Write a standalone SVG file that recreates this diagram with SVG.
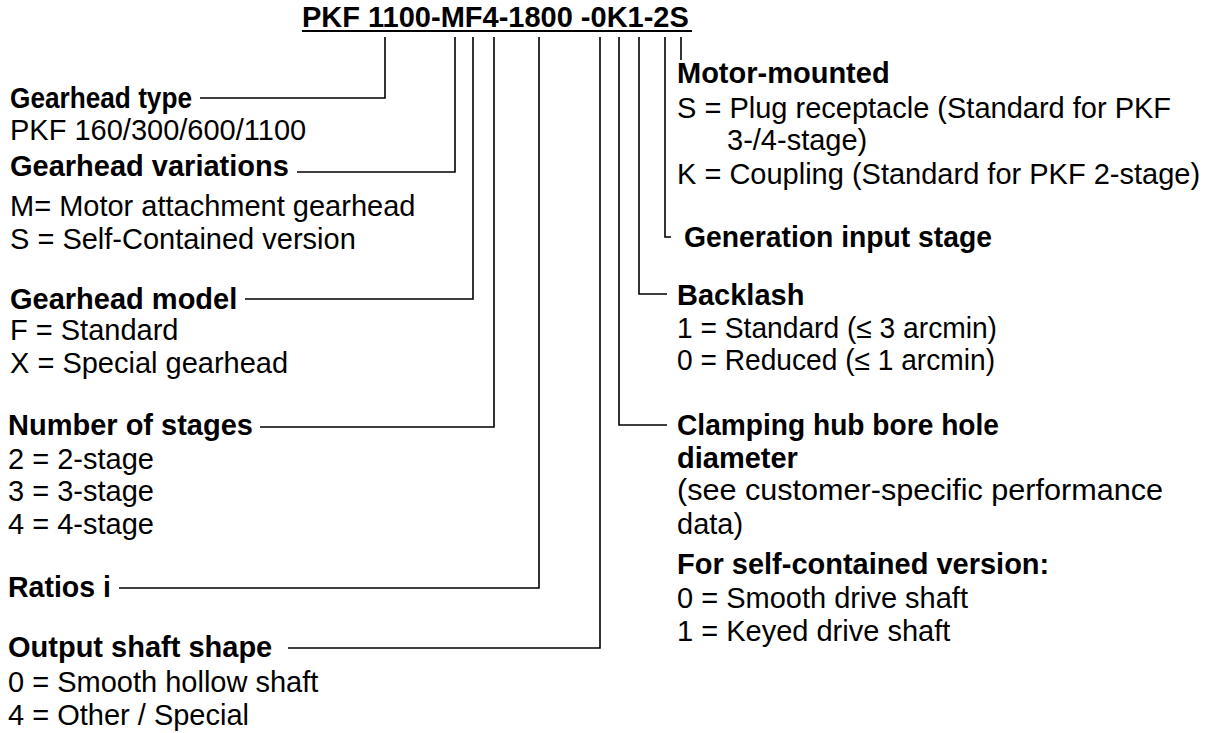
<svg xmlns="http://www.w3.org/2000/svg" width="1213" height="733" viewBox="0 0 1213 733">
<style>
text{font-family:"Liberation Sans",Arial,Helvetica,sans-serif;font-size:29px;fill:#000}
.b{font-weight:bold}
.c{fill:none;stroke:#000;stroke-width:1.6}
</style>
<rect width="1213" height="733" fill="#fff"/>
<g id="title">
<text class="b" x="302" y="27">PKF 1100-MF4-1800 -0K1-2S</text>
<line x1="302" y1="31" x2="692" y2="31" stroke="#000" stroke-width="2"/>
</g>
<g id="connectors">
<path class="c" d="M200,98 H385 V37"/>
<path class="c" d="M297,172 H455 V37"/>
<path class="c" d="M245,299 H473 V37"/>
<path class="c" d="M260,427 H494 V37"/>
<path class="c" d="M119,588 H539 V37"/>
<path class="c" d="M288,648 H600 V37"/>
<path class="c" d="M619,37 V425 H667"/>
<path class="c" d="M639,37 V294 H667"/>
<path class="c" d="M665,37 V237 H671"/>
<path class="c" d="M681,37 V60"/>
</g>
<g id="gearhead-type">
<text class="b" x="10" y="108" textLength="182" lengthAdjust="spacingAndGlyphs">Gearhead type</text>
<text x="10" y="140">PKF 160/300/600/1100</text>
</g>
<g id="gearhead-variations">
<text class="b" x="10" y="176">Gearhead variations</text>
<text x="10" y="216">M= Motor attachment gearhead</text>
<text x="10" y="249">S = Self-Contained version</text>
</g>
<g id="gearhead-model">
<text class="b" x="10" y="309">Gearhead model</text>
<text x="10" y="340">F = Standard</text>
<text x="10" y="373">X = Special gearhead</text>
</g>
<g id="number-of-stages">
<text class="b" x="8" y="435">Number of stages</text>
<text x="8" y="469">2 = 2-stage</text>
<text x="8" y="501">3 = 3-stage</text>
<text x="8" y="534">4 = 4-stage</text>
</g>
<g id="ratios">
<text class="b" x="8" y="597" textLength="103" lengthAdjust="spacingAndGlyphs">Ratios i</text>
</g>
<g id="output-shaft">
<text class="b" x="8" y="657">Output shaft shape</text>
<text x="8" y="692">0 = Smooth hollow shaft</text>
<text x="8" y="725">4 = Other / Special</text>
</g>
<g id="motor-mounted">
<text class="b" x="677" y="83">Motor-mounted</text>
<text x="677" y="118">S = Plug receptacle (Standard for PKF</text>
<text x="727" y="150">3-/4-stage)</text>
<text x="677" y="184">K = Coupling (Standard for PKF 2-stage)</text>
</g>
<g id="generation">
<text class="b" x="684" y="247" textLength="308" lengthAdjust="spacingAndGlyphs">Generation input stage</text>
</g>
<g id="backlash">
<text class="b" x="677" y="305">Backlash</text>
<text x="677" y="338" textLength="320" lengthAdjust="spacingAndGlyphs">1 = Standard (≤ 3 arcmin)</text>
<text x="677" y="370" textLength="318" lengthAdjust="spacingAndGlyphs">0 = Reduced (≤ 1 arcmin)</text>
</g>
<g id="clamping">
<text class="b" x="677" y="435" textLength="322" lengthAdjust="spacingAndGlyphs">Clamping hub bore hole</text>
<text class="b" x="677" y="468">diameter</text>
<text x="677" y="500" textLength="486" lengthAdjust="spacingAndGlyphs">(see customer-specific performance</text>
<text x="677" y="534">data)</text>
<text class="b" x="677" y="574">For self-contained version:</text>
<text x="677" y="608">0 = Smooth drive shaft</text>
<text x="677" y="641">1 = Keyed drive shaft</text>
</g>
</svg>
